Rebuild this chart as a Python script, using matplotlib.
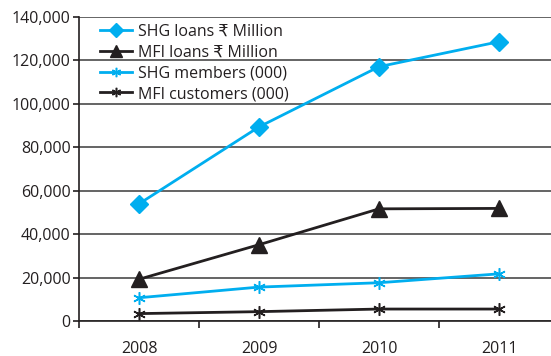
import matplotlib
matplotlib.use("Agg")
import matplotlib.pyplot as plt

years = ["2008", "2009", "2010", "2011"]
shg_loans = [53900, 89300, 117000, 128500]
mfi_loans = [19200, 35100, 51600, 51800]
shg_members = [10700, 15600, 17600, 21700]
mfi_customers = [3400, 4300, 5500, 5500]
y_ticks = [0, 20000, 40000, 60000, 80000, 100000, 120000, 140000]

CYAN = "#00aeef"
DARK = "#231f20"

plt.rcParams["font.family"] = ["Open Sans", "DejaVu Sans"]

fig = plt.figure(figsize=(5.51, 3.56), dpi=100)
W, H = 551, 356
left, right = 79, 551
top, bottom = 16.7, 321
ax = fig.add_axes([left / W, 1 - bottom / H, (right - left) / W, (bottom - top) / H])

x = list(range(len(years)))
ax.plot(x, shg_loans, color=CYAN, lw=2.0, marker="D", ms=9, label="SHG loans ₹ Million", zorder=4)
ax.plot(x, mfi_loans, color=DARK, lw=2.0, marker="^", ms=12, label="MFI loans ₹ Million", zorder=4)
ax.plot(x, shg_members, color=CYAN, lw=2.0, marker=(6, 2, 0), ms=9, mew=1.1,
        label="SHG members (000)", zorder=4)
ax.plot(x, mfi_customers, color=DARK, lw=2.0, marker=(6, 2, 0), ms=9, mew=1.1,
        label="MFI customers (000)", zorder=4)

ax.set_ylim(0, 140000)
ax.set_xlim(-0.5, 3.5 - 8 / 120)
ax.set_yticks(y_ticks)
ax.set_yticklabels([f"{v:,}" for v in y_ticks])
ax.set_xticks(x)
ax.set_xticklabels(years)
ax.set_xticks([-0.5, 0.5, 1.5, 2.5], minor=True)

ax.yaxis.grid(True, color="#4a4a4a", lw=1.2)
ax.set_axisbelow(True)
for s in ["top", "right"]:
    ax.spines[s].set_visible(False)
ax.spines["left"].set_color(DARK)
ax.spines["bottom"].set_color(DARK)
ax.spines["left"].set_linewidth(1.2)
ax.spines["bottom"].set_linewidth(1.2)

ax.tick_params(axis="y", length=4, width=1.2, color=DARK, labelsize=11.5, labelcolor=DARK, pad=2)
ax.tick_params(axis="x", which="major", length=0, labelsize=11.5, labelcolor=DARK, pad=14.5)
ax.tick_params(axis="x", which="minor", length=5, width=1.2, color=DARK, direction="out")

leg = ax.legend(loc="upper left", bbox_to_anchor=(0.045, 0.977), frameon=False,
                borderaxespad=0, borderpad=0, fontsize=11.5, handlelength=2.0,
                handletextpad=0.35, labelspacing=0.3, markerscale=0.75)
for t in leg.get_texts():
    t.set_color(DARK)

fig.savefig("out.png", dpi=100)
